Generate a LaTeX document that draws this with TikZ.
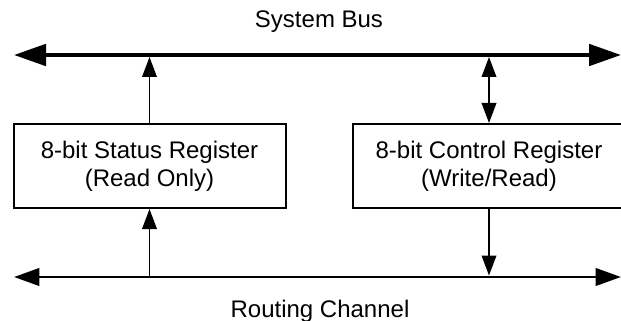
\documentclass[tikz,border=0pt]{standalone}
\usepackage{fontspec}
\setmainfont{Liberation Sans}
\usetikzlibrary{arrows.meta}
\begin{document}
\begin{tikzpicture}[x=0.75pt,y=-0.75pt]
	\tikzstyle{every node}=[font=\fontsize{18}{21}\selectfont]
	\tikzstyle{register}=[draw,line width=1.5pt,minimum width=204pt,minimum height=63pt,align=center,inner sep=0pt]
	\tikzstyle{sysbus}=[line width=3pt,{Triangle[length=24pt,width=16pt]}-{Triangle[length=24pt,width=16pt]}]
	\tikzstyle{routebus}=[line width=2.2pt,{Triangle[length=19pt,width=13pt]}-{Triangle[length=19pt,width=13pt]}]
	\tikzstyle{signal}=[line width=1.1pt,-{Triangle[length=15pt,width=11pt]}]
	\tikzstyle{bisignal}=[line width=1.1pt,{Triangle[length=15pt,width=11pt]}-{Triangle[length=15pt,width=11pt]}]

	\useasboundingbox (0,0) rectangle (621,321);

	\node[anchor=base] (sysbuslabel) at (319,28) {System Bus};
	\node[anchor=base] (routelabel) at (320,317) {Routing Channel};
	\node[register] (status) at (149.5,166) {8-bit Status Register\\(Read Only)};
	\node[register] (control) at (489,166) {8-bit Control Register\\(Write/Read)};

	\coordinate (sysL) at (14,55);
	\coordinate (sysR) at (621,55);
	\coordinate (routeL) at (14,277);
	\coordinate (routeR) at (621,277);
	\coordinate (statusTop) at (149.5,57);
	\coordinate (statusBot) at (149.5,275.5);
	\coordinate (controlTop) at (489,57);
	\coordinate (controlBot) at (489,275.5);

	\draw[sysbus] (sysL) -- (sysR);
	\draw[routebus] (routeL) -- (routeR);
	\draw[signal] (status.north) -- (statusTop);
	\draw[signal] (statusBot) -- (status.south);
	\draw[bisignal] (controlTop) -- (control.north);
	\draw[signal] (control.south) -- (controlBot);
\end{tikzpicture}
\end{document}
